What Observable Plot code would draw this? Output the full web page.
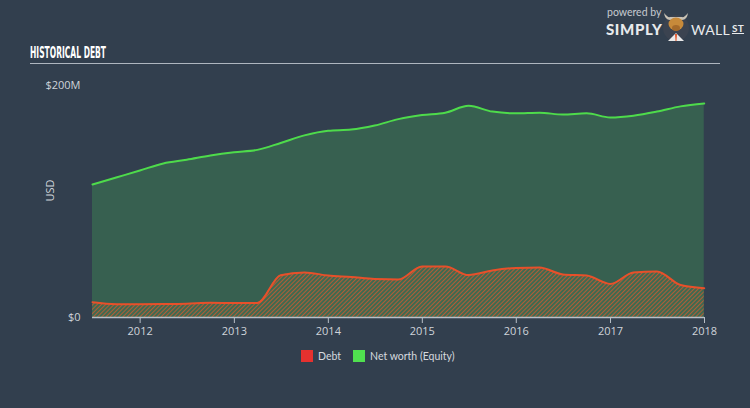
<!DOCTYPE html>
<html>
<head>
<meta charset="utf-8">
<script src="https://cdn.jsdelivr.net/npm/d3@7"></script>
<script src="https://cdn.jsdelivr.net/npm/@observablehq/plot@0.6"></script>
<style>
  html, body { margin: 0; padding: 0; background: #323f4e; }
  #wrap { position: relative; width: 750px; height: 408px; background: #323f4e; overflow: hidden; font-family: "Open Sans", sans-serif; }
  #title { position: absolute; left: 30px; top: 41px; }
  #rule { position: absolute; left: 30px; top: 63px; width: 690px; height: 0; border-top: 1.5px solid #aeb6bf; }
  #chart { position: absolute; left: 0; top: 70px; }
  #legend { position: absolute; top: 350px; left: 301px; font-size: 10.5px; font-family: "Lato", sans-serif; color: #d5d9de; display: flex; align-items: center; }
  .sw { display: inline-block; width: 12px; height: 12px; margin-right: 5px; }
  .item { display: flex; align-items: center; margin-right: 12px; }
  #logo { position: absolute; left: 606px; top: 6px; color: #e8eaec; }
  #pb { font-size: 10.5px; color: #c5cad0; position: absolute; left: 1px; top: 0px; white-space: nowrap; font-family: "Lato", sans-serif; }
  #simply { position: absolute; left: 0; top: 14px; font-weight: 900; font-size: 15px; font-family: "Lato", "Open Sans", sans-serif; letter-spacing: 0.6px; }
  #wall { position: absolute; left: 85px; top: 15px; font-size: 14px; font-family: "Lato", sans-serif; letter-spacing: 0.3px; white-space: nowrap; }
  #icon { position: absolute; left: 54px; top: 2px; }
</style>
</head>
<body>
<div id="wrap">
  <svg id="title" width="220" height="22"><text x="0" y="17" textLength="76" lengthAdjust="spacingAndGlyphs" font-family="DejaVu Sans Condensed, sans-serif" font-weight="bold" font-size="15.5" fill="#ffffff">HISTORICAL DEBT</text></svg>
  <div id="rule"></div>
  <div id="logo">
    <div id="pb">powered by</div>
    <div id="simply">SIMPLY</div>
    <svg id="icon" width="32" height="34" viewBox="0 0 32 34">
      <circle cx="16" cy="20" r="13" fill="#3b4350"/>
      <path d="M4 5 Q5 12 10 12 L22 12 Q27 12 28 5 Q24 10 22 9 L10 9 Q8 10 4 5Z" fill="#c9c2b5"/>
      <ellipse cx="16" cy="16" rx="7.5" ry="6.5" fill="#c78a3a"/>
      <ellipse cx="16" cy="20" rx="4" ry="3" fill="#a56a2a"/>
      <path d="M8 33 L16 25 L24 33Z" fill="#e9e9e9"/>
      <path d="M15 26 L17 26 L16.5 33 L15.5 33Z" fill="#e2572b"/>
    </svg>
    <div id="wall">WALL<span style="font-size:10px;font-weight:bold;text-decoration:underline;margin-left:2px;vertical-align:3px">ST</span></div>
  </div>
  <div id="chart"></div>
  <div id="legend">
    <div class="item"><span class="sw" style="background:#e5312f"></span>Debt</div>
    <div class="item"><span class="sw" style="background:#50e04f"></span>Net worth (Equity)</div>
  </div>
</div>
<script>
const dates = ["2011-06-30","2011-09-30","2011-12-31","2012-03-31","2012-06-30","2012-09-30","2012-12-31",
  "2013-03-31","2013-06-30","2013-09-30","2013-12-31","2014-03-31","2014-06-30","2014-09-30","2014-12-31",
  "2015-03-31","2015-06-30","2015-09-30","2015-12-31","2016-03-31","2016-06-30","2016-09-30","2016-12-31",
  "2017-03-31","2017-06-30","2017-09-30","2017-12-31"];
const debt = [13.2,11.5,11.5,11.6,11.9,12.7,12.5,12.5,36.5,38.8,36.2,34.9,33.2,32.8,44,44,36.6,40.5,42.7,43.1,37.1,36.2,28.9,38.8,39.7,28,25.3];
const equity = [114.7,120.7,126.7,132.8,136,139.7,142.5,144.5,150.5,157,161,162,165.5,171,174.5,176.5,182.5,177.5,176,176.5,175,176,172.5,174,177.5,182,184.5];
const yTicks = [0, 200];
const yTickLabels = ["$0", "$200M"];
const xTicks = ["2012-01-01","2013-01-01","2014-01-01","2015-01-01","2016-01-01","2017-01-01","2018-01-01"];

const rows = dates.map((d, i) => ({date: new Date(d), debt: debt[i], equity: equity[i]}));

const defs = () => {
  const svgNS = "http://www.w3.org/2000/svg";
  const g = document.createElementNS(svgNS, "defs");
  g.innerHTML = `<pattern id="hatch" patternUnits="userSpaceOnUse" width="3" height="3" patternTransform="rotate(45)">
      <rect width="3" height="3" fill="#3f6a50"/>
      <line x1="0" y1="0" x2="0" y2="3" stroke="#cf5a30" stroke-width="1.6"/>
    </pattern>`;
  return g;
};

const chart = Plot.plot({
  width: 750,
  height: 272,
  marginTop: 15,
  marginBottom: 25,
  marginLeft: 92,
  marginRight: 46,
  style: {background: "transparent", color: "#cfd4da", fontFamily: "Open Sans, sans-serif", fontSize: "11px"},
  x: {type: "utc", domain: [new Date("2011-06-30"), new Date("2018-01-01")]},
  y: {domain: [0, 200]},
  marks: [
    defs,
    Plot.areaY(rows, {x: "date", y: "equity", fill: "#376050", curve: "monotone-x"}),
    Plot.areaY(rows, {x: "date", y: "debt", fill: "url(#hatch)", curve: "monotone-x"}),
    Plot.lineY(rows, {x: "date", y: "debt", stroke: "#e8502a", strokeWidth: 2, curve: "monotone-x"}),
    Plot.lineY(rows, {x: "date", y: "equity", stroke: "#4edb4b", strokeWidth: 2, curve: "monotone-x"}),
    Plot.ruleY([0], {stroke: "#b8c0c8", strokeWidth: 1.5}),
    Plot.axisX({ticks: xTicks.map(d => new Date(d)), tickFormat: d3.utcFormat("%Y"), tickSize: 6, tickPadding: 4, stroke: "#b8c0c8", label: null}),
    Plot.axisY({ticks: yTicks, tickFormat: (d) => yTickLabels[yTicks.indexOf(d)], tickSize: 0, tickPadding: 12, label: null}),
    Plot.text(["USD"], {frameAnchor: "left", dx: -42, rotate: -90, fill: "#cfd4da", fontSize: 11})
  ]
});
document.getElementById("chart").appendChild(chart);
</script>
</body>
</html>
